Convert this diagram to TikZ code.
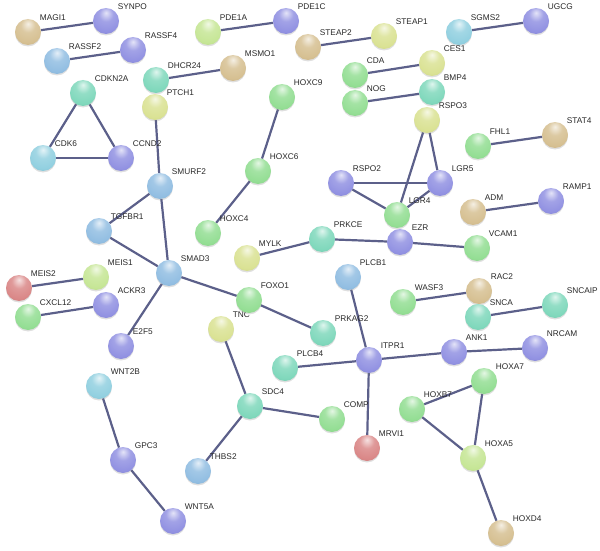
\documentclass[tikz,border=0pt]{standalone}
\usepackage{fontspec}
\setmainfont{Liberation Sans}
\usepackage{tikz}
\usetikzlibrary{backgrounds,shadows}

\definecolor{tanc}{RGB}{214,192,146}
\definecolor{bluec}{RGB}{146,146,226}
\definecolor{skyc}{RGB}{146,190,226}
\definecolor{cyanc}{RGB}{146,208,224}
\definecolor{tealc}{RGB}{128,216,188}
\definecolor{greenc}{RGB}{148,222,148}
\definecolor{limec}{RGB}{218,226,148}
\definecolor{palec}{RGB}{198,230,150}
\definecolor{redc}{RGB}{218,136,136}
\definecolor{edgec}{RGB}{92,96,138}
\definecolor{textc}{RGB}{40,40,40}

\makeatletter
\pgfdeclareradialshading[tikz@ball]{gball}{\pgfqpoint{0bp}{16bp}}{%
  color(0bp)=(tikz@ball!25!white); color(14bp)=(tikz@ball!85!white);
  color(30bp)=(tikz@ball); color(50bp)=(tikz@ball!85!black);
  color(62bp)=(tikz@ball!62!black); color(80bp)=(tikz@ball!45!black)}
\makeatother

\begin{document}
\begin{tikzpicture}[
    x=1pt, y=-1pt,
    label distance=3.5pt,
    gene/.style={circle, minimum size=26pt, inner sep=0pt, outer sep=0pt,
        ball color=#1, shading=gball,
        drop shadow={opacity=0.25, shadow xshift=0pt, shadow yshift=-1.5pt}},
    lbl/.style={font=\fontsize{8.3}{9}\selectfont, text=textc, inner sep=0pt},
    every label/.style={lbl},
    link/.style={draw=edgec, line width=2.2pt}
]
\useasboundingbox (0,0) rectangle (600,551);

% Top row pairs
\node[gene=tanc,   label=45:MAGI1]  (magi1)  at (28,32)  {};
\node[gene=bluec,  label=45:SYNPO]  (synpo)  at (106,21) {};
\node[gene=skyc,   label=45:RASSF2] (rassf2) at (57,61)  {};
\node[gene=bluec,  label=45:RASSF4] (rassf4) at (133,50) {};
\node[gene=palec,  label=45:PDE1A]  (pde1a)  at (208,32) {};
\node[gene=bluec,  label=45:PDE1C]  (pde1c)  at (286,21) {};
\node[gene=tanc,   label=45:STEAP2] (steap2) at (308,47) {};
\node[gene=limec,  label=45:STEAP1] (steap1) at (384,36) {};
\node[gene=cyanc,  label=45:SGMS2]  (sgms2)  at (459,32) {};
\node[gene=bluec,  label=45:UGCG]   (ugcg)   at (536,21) {};
\node[gene=greenc, label=45:CDA]    (cda)    at (355,75) {};
\node[gene=limec,  label=45:CES1]   (ces1)   at (432,63) {};
\node[gene=greenc, label=45:NOG]    (nog)    at (355,103) {};
\node[gene=tealc,  label=45:BMP4]   (bmp4)   at (432,92) {};
\node[gene=tealc,  label=45:DHCR24] (dhcr24) at (156,80) {};
\node[gene=tanc,   label=45:MSMO1]  (msmo1)  at (233,68) {};

% Cell cycle triangle
\node[gene=tealc,  label=45:CDKN2A] (cdkn2a) at (83,93)  {};
\node[gene=cyanc,  label=45:CDK6]   (cdk6)   at (43,158) {};
\node[gene=bluec,  label=45:CCND2]  (ccnd2)  at (121,158) {};

% HOXC chain
\node[gene=greenc, label=45:HOXC9]  (hoxc9)  at (282,97) {};
\node[gene=greenc, label=45:HOXC6]  (hoxc6)  at (258,171) {};
\node[gene=greenc, label=45:HOXC4]  (hoxc4)  at (208,233) {};

% TGF-beta hub
\node[gene=limec,  label=45:PTCH1]  (ptch1)  at (155,107) {};
\node[gene=skyc,   label=45:SMURF2] (smurf2) at (160,186) {};
\node[gene=skyc,   label=45:TGFBR1] (tgfbr1) at (99,231) {};
\node[gene=skyc,   label=45:SMAD3]  (smad3)  at (169,273) {};
\node[gene=bluec,  label=45:E2F5]   (e2f5)   at (121,346) {};
\node[gene=limec,  label=45:TNC]    (tnc)    at (221,329) {};
\node[gene=greenc, label=45:FOXO1]  (foxo1)  at (249,300) {};
\node[gene=tealc,  label=45:PRKAG2] (prkag2) at (323,333) {};

% Left pairs
\node[gene=redc,   label=45:MEIS2]  (meis2)  at (19,288) {};
\node[gene=palec,  label=45:MEIS1]  (meis1)  at (96,277) {};
\node[gene=greenc, label=45:CXCL12] (cxcl12) at (28,317) {};
\node[gene=bluec,  label=45:ACKR3]  (ackr3)  at (106,305) {};

% R-spondin cluster
\node[gene=limec,  label=45:RSPO3]  (rspo3)  at (427,120) {};
\node[gene=bluec,  label=45:RSPO2]  (rspo2)  at (341,183) {};
\node[gene=bluec,  label=45:LGR5]   (lgr5)   at (440,183) {};
\node[gene=greenc, label=45:LGR4]   (lgr4)   at (397,215) {};

% Right pairs
\node[gene=greenc, label=45:FHL1]   (fhl1)   at (478,146) {};
\node[gene=tanc,   label=45:STAT4]  (stat4)  at (555,135) {};
\node[gene=tanc,   label=45:ADM]    (adm)    at (473,212) {};
\node[gene=bluec,  label=45:RAMP1]  (ramp1)  at (551,201) {};
\node[gene=greenc, label=45:WASF3]  (wasf3)  at (403,302) {};
\node[gene=tanc,   label=45:RAC2]   (rac2)   at (479,291) {};
\node[gene=tealc,  label=45:SNCA]   (snca)   at (478,317) {};
\node[gene=tealc,  label=45:SNCAIP] (sncaip) at (555,305) {};

% EZR chain
\node[gene=limec,  label=45:MYLK]   (mylk)   at (247,258) {};
\node[gene=tealc,  label=45:PRKCE]  (prkce)  at (322,239) {};
\node[gene=bluec,  label=45:EZR]    (ezr)    at (400,242) {};
\node[gene=greenc, label=45:VCAM1]  (vcam1)  at (477,248) {};

% ITPR1 hub
\node[gene=skyc,   label=45:PLCB1]  (plcb1)  at (348,277) {};
\node[gene=tealc,  label=45:PLCB4]  (plcb4)  at (285,368) {};
\node[gene=bluec,  label=45:ITPR1]  (itpr1)  at (369,360) {};
\node[gene=bluec,  label=45:ANK1]   (ank1)   at (454,352) {};
\node[gene=bluec,  label=45:NRCAM]  (nrcam)  at (535,348) {};
\node[gene=redc,   label=45:MRVI1]  (mrvi1)  at (367,448) {};

% SDC4 group
\node[gene=tealc,  label=45:SDC4]   (sdc4)   at (250,406) {};
\node[gene=greenc, label=45:COMP]   (comp)   at (332,419) {};
\node[gene=skyc,   label=45:THBS2]  (thbs2)  at (198,471) {};

% WNT chain
\node[gene=cyanc,  label=45:WNT2B]  (wnt2b)  at (99,386) {};
\node[gene=bluec,  label=45:GPC3]   (gpc3)   at (123,460) {};
\node[gene=bluec,  label=45:WNT5A]  (wnt5a)  at (173,521) {};

% HOXA cluster
\node[gene=greenc, label=45:HOXB7]  (hoxb7)  at (412,409) {};
\node[gene=greenc, label=45:HOXA7]  (hoxa7)  at (484,381) {};
\node[gene=palec,  label=45:HOXA5]  (hoxa5)  at (473,458) {};
\node[gene=tanc,   label=45:HOXD4]  (hoxd4)  at (501,533) {};

% Interactions
\begin{scope}[on background layer]
\foreach \a/\b in {magi1/synpo, rassf2/rassf4, pde1a/pde1c, steap2/steap1,
    sgms2/ugcg, cda/ces1, nog/bmp4, dhcr24/msmo1,
    cdkn2a/cdk6, cdkn2a/ccnd2, cdk6/ccnd2,
    hoxc9/hoxc6, hoxc6/hoxc4,
    ptch1/smurf2, smurf2/tgfbr1, smurf2/smad3, tgfbr1/smad3,
    smad3/e2f5, smad3/foxo1, foxo1/prkag2,
    meis2/meis1, cxcl12/ackr3,
    rspo3/lgr4, rspo3/lgr5, rspo2/lgr5, rspo2/lgr4, lgr4/lgr5,
    fhl1/stat4, adm/ramp1, wasf3/rac2, snca/sncaip,
    mylk/prkce, prkce/ezr, ezr/vcam1,
    plcb1/itpr1, plcb4/itpr1, itpr1/ank1, ank1/nrcam, itpr1/mrvi1,
    tnc/sdc4, sdc4/comp, sdc4/thbs2,
    wnt2b/gpc3, gpc3/wnt5a,
    hoxb7/hoxa7, hoxb7/hoxa5, hoxa7/hoxa5, hoxa5/hoxd4}
    \draw[link] (\a) -- (\b);
\end{scope}

\end{tikzpicture}
\end{document}
